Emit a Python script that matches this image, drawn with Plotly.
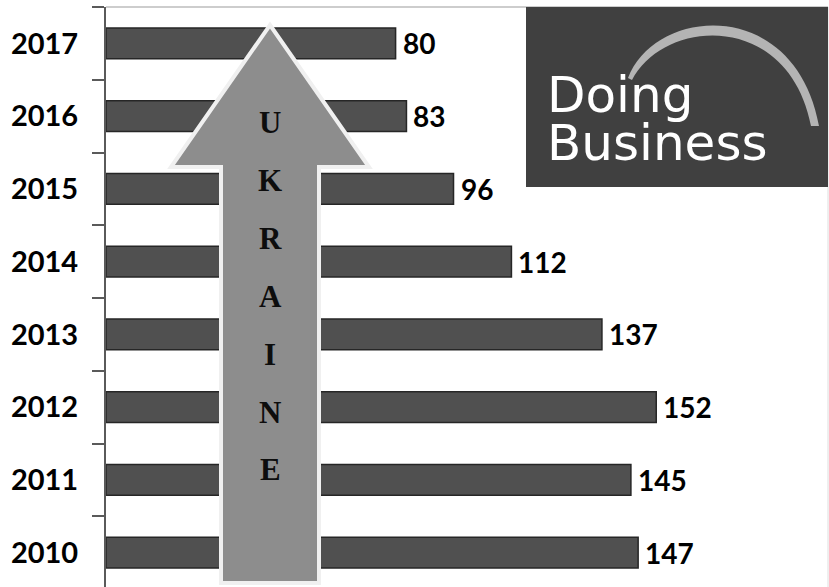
import plotly.graph_objects as go

# Doing Business ranking of Ukraine by year
years = ["2010", "2011", "2012", "2013", "2014", "2015", "2016", "2017"]
ranks = [147, 145, 152, 137, 112, 96, 83, 80]
arrow_letters = ["U", "K", "R", "A", "I", "N", "E"]
logo_lines = ["Doing", "Business"]

W, H = 829, 587
ML, MR, MT, MB = 106, 1, 7, 0
PW, PH = W - ML - MR, H - MT - MB


def px(x):
    return (x - ML) / PW


def py(y):
    return 1 - (y - MT) / PH


def path(points):
    return "M " + " L ".join(f"{px(x):.5f},{py(y):.5f}" for x, y in points) + " Z"


fig = go.Figure(
    go.Bar(
        x=ranks,
        y=years,
        orientation="h",
        width=0.42,
        marker=dict(color="#505050", line=dict(color="#262626", width=1.5)),
        hoverinfo="skip",
    )
)

# value labels at the bar ends (category index used for the y position)
annotations = []
for i, v in enumerate(ranks):
    annotations.append(
        dict(
            x=v, y=i, xref="x", yref="y", text=str(v), showarrow=False,
            xanchor="left", yanchor="middle", xshift=5,
            font=dict(family="Lato, Calibri, sans-serif", size=28, color="#000000", weight="bold"),
        )
    )

shapes = []

# big upward arrow
arrow = [(270, 25), (369, 167), (319, 167), (319, 583), (221, 583), (221, 167), (171, 167)]
shapes.append(dict(type="path", xref="paper", yref="paper", path=path(arrow),
                   fillcolor="#8d8d8d", line=dict(color="#f0f0f0", width=4), layer="above"))

for i, ch in enumerate(arrow_letters):
    annotations.append(
        dict(
            x=px(270), y=py(123 + i * 57.8), xref="paper", yref="paper", text=ch,
            showarrow=False, xanchor="center", yanchor="middle",
            font=dict(family="Liberation Serif, Times New Roman, serif", size=31,
                      color="#0d0d0d", weight="bold"),
        )
    )

# logo panel
shapes.append(dict(type="rect", xref="paper", yref="paper",
                   x0=px(526), x1=px(828), y0=py(187), y1=py(7),
                   fillcolor="#404040", line=dict(width=0), layer="above"))
arc_outer = (
    f"M {px(628):.5f},{py(78):.5f} "
    f"C {px(656):.5f},{py(6):.5f} {px(795):.5f},{py(-4):.5f} {px(819):.5f},{py(126):.5f} "
)
arc_inner = (
    f"L {px(811):.5f},{py(126):.5f} "
    f"C {px(788):.5f},{py(10):.5f} {px(664):.5f},{py(18):.5f} {px(632):.5f},{py(80):.5f} Z"
)
shapes.append(dict(type="path", xref="paper", yref="paper", path=arc_outer + arc_inner,
                   fillcolor="#b4b4b4", line=dict(width=0), layer="above"))
for line_text, base in zip(logo_lines, [112, 160]):
    annotations.append(
        dict(
            x=px(545), y=py(base - 0.35 * 50), xref="paper", yref="paper", text=line_text,
            showarrow=False, xanchor="left", yanchor="middle",
            font=dict(family="DejaVu Sans, sans-serif", size=50, color="#ffffff"),
        )
    )

# thin frame along the top and right
shapes.append(dict(type="line", xref="paper", yref="paper", x0=0, x1=1, y0=1, y1=1,
                   line=dict(color="#bdbdbd", width=1.5), layer="below"))
shapes.append(dict(type="line", xref="paper", yref="paper", x0=1, x1=1, y0=0, y1=1,
                   line=dict(color="#dedede", width=1), layer="below"))

n = len(years)
span = PH / 72.75
fig.update_layout(
    width=W, height=H,
    margin=dict(l=ML, r=MR, t=MT, b=MB, pad=0),
    paper_bgcolor="#ffffff", plot_bgcolor="#ffffff",
    showlegend=False,
    shapes=shapes,
    annotations=annotations,
    xaxis=dict(range=[0, PW / 3.62], visible=False, fixedrange=True),
    yaxis=dict(
        type="category", categoryorder="array", categoryarray=years,
        range=[n - 0.5 - span, n - 0.5],
        showline=True, linecolor="#5a5a5a", linewidth=2,
        ticks="outside", ticklen=12, tickwidth=1.5, tickcolor="#5a5a5a",
        tickson="boundaries", ticklabelstandoff=20,
        showgrid=False, zeroline=False,
        tickfont=dict(family="Lato, Calibri, sans-serif", size=29, color="#000000", weight="bold"),
    ),
)

fig.write_html("out.html")
